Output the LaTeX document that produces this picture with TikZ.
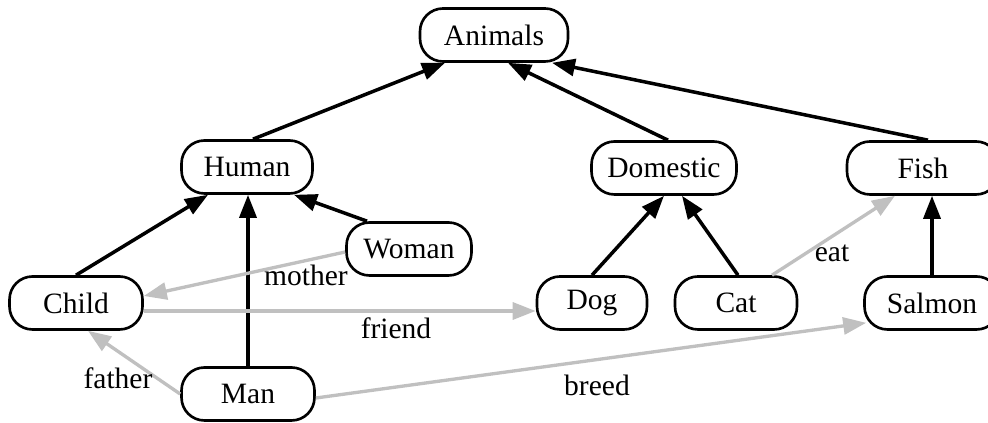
\documentclass[tikz,border=0pt]{standalone}
\usepackage{fontspec}
\setmainfont{Liberation Serif}
\usetikzlibrary{positioning, arrows.meta}
\definecolor{relgray}{HTML}{C0C0C0}

\begin{document}
\begin{tikzpicture}[
      every node/.style={font=\fontsize{16.8}{20}\selectfont},
      cbox/.style={draw, line width=1.5pt, rounded corners=0.46cm,
                  minimum height=1.06cm, inner sep=0pt, align=center},
      isa/.style={-{Triangle[length=0.46cm, width=0.34cm]}, line width=2pt},
      rel/.style={-{Triangle[length=0.46cm, width=0.34cm]}, line width=1.9pt, relgray},
      lbl/.style={inner sep=1pt},
    ]
    \useasboundingbox (0, 0) rectangle (19.76, 8.46);

    \node[cbox, minimum width=2.96cm] (animals)  at (9.88, 7.76)  {Animals};
    \node[cbox, minimum width=2.62cm] (human)    at (4.94, 5.12)  {Human};
    \node[cbox, minimum width=2.90cm] (domestic) at (13.28, 5.10) {Domestic};
    \node[cbox, minimum width=3.04cm] (fish)     at (18.46, 5.10) {Fish};
    \node[cbox, minimum width=2.50cm] (woman)    at (8.18, 3.48)  {Woman};
    \node[cbox, minimum width=2.66cm] (child)    at (1.52, 2.40)  {Child};
    \node[cbox, minimum width=2.20cm] (dog)      at (11.84, 2.40) {Dog};
    \node[cbox, minimum width=2.44cm] (cat)      at (14.72, 2.40) {Cat};
    \node[cbox, minimum width=2.70cm] (salmon)   at (18.64, 2.40) {Salmon};
    \node[cbox, minimum width=2.66cm] (man)      at (4.96, 0.58)  {Man};

    % is-a links
    \draw[isa] ([xshift=0.12cm]human.north) -- ([xshift=-0.98cm]animals.south);
    \draw[isa] ([xshift=0.08cm]domestic.north) -- ([xshift=0.28cm]animals.south);
    \draw[isa] ([xshift=0.1cm]fish.north) -- ([xshift=1.16cm]animals.south);
    \draw[isa] (child.north) -- ([xshift=-0.78cm]human.south);
    \draw[isa] (man.north) -- (man.north |- human.south);
    \draw[isa] ([xshift=-0.84cm]woman.north) -- ([xshift=0.94cm]human.south);
    \draw[isa] (dog.north) -- (domestic.south);
    \draw[isa] ([xshift=0.04cm]cat.north) -- ([xshift=0.36cm]domestic.south);
    \draw[isa] (salmon.north) -- (salmon.north |- fish.south);

    % relations
    \draw[rel] ([yshift=-0.06cm]woman.west) -- ([yshift=0.14cm]child.east);
    \draw[rel] ([yshift=-0.16cm]child.east) -- ([yshift=-0.16cm]dog.west);
    \draw[rel] (man.west) -- ([xshift=0.24cm]child.south);
    \draw[rel] ([xshift=0.72cm]cat.north) -- ([xshift=-0.56cm]fish.south);
    \draw[rel] ([yshift=-0.08cm]man.east) -- ([shift={(0.06,0.16)}]salmon.south west);

    \node[lbl] (lmother) at (6.12, 2.96)  {mother};
    \node[lbl] (lfriend) at (7.92, 1.90)  {friend};
    \node[lbl] (lfather) at (2.36, 0.90)  {father};
    \node[lbl] (leat)    at (16.64, 3.40) {eat};
    \node[lbl] (lbreed)  at (11.94, 0.76) {breed};
  \end{tikzpicture}
\end{document}
